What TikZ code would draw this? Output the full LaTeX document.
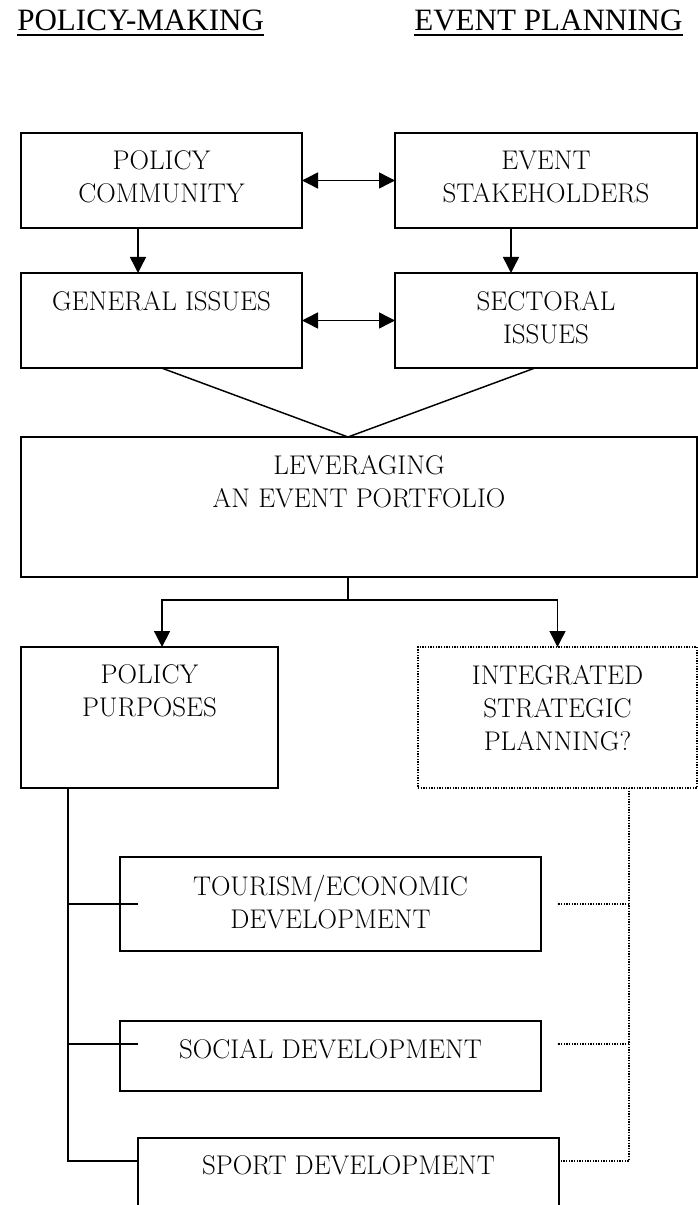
\documentclass[tikz,border=0pt]{standalone}
\usepackage{fontspec}
\newfontfamily\headfont{Liberation Serif}
\usetikzlibrary{arrows.meta}
\newcommand{\boxtext}[3]{\parbox[t][#2][t]{#1}{\centering #3}}
\newcommand{\boxfont}{\fontsize{20.25}{24.75}\selectfont}

\begin{document}
\begin{tikzpicture}[x=0.75pt, y=-0.75pt,
    head/.style={font=\headfont\fontsize{23.3}{27}\selectfont, inner sep=0pt, anchor=base west},
    box/.style={draw, line width=1.1pt, inner xsep=0pt, inner ysep=13.5pt, outer sep=0pt,
                anchor=north west, font=\boxfont},
    dotbox/.style={box, line width=0.9pt, dash pattern=on 0.9pt off 1.1pt},
    ln/.style={line width=1.1pt},
    dotln/.style={line width=0.9pt, dash pattern=on 0.9pt off 1.1pt},
    arr/.style={ln, -{Triangle[length=12pt,width=12pt]}},
    dblarr/.style={ln, {Triangle[length=12pt,width=12pt]}-{Triangle[length=12pt,width=12pt]}}]
    \useasboundingbox (0,0) rectangle (698,1205);

    % column headings
    \node[head] (hpm) at (17,31) {POLICY-MAKING};
    \node[head] (hep) at (414,31) {EVENT PLANNING};
    \draw[line width=1.3pt] ([yshift=-2.8pt]hpm.base west) -- ([yshift=-2.8pt]hpm.base east);
    \draw[line width=1.3pt] ([yshift=-2.8pt]hep.base west) -- ([yshift=-2.8pt]hep.base east);

    \node[box] (pc)  at (21,133)  {\boxtext{210.75pt}{44.25pt}{POLICY\\COMMUNITY}};
    \node[box] (es)  at (395,133) {\boxtext{226.5pt}{44.25pt}{EVENT\\STAKEHOLDERS}};
    \node[box] (gi)  at (21,273)  {\boxtext{210.75pt}{44.25pt}{GENERAL ISSUES}};
    \node[box] (si)  at (395,273) {\boxtext{226.5pt}{44.25pt}{SECTORAL\\ISSUES}};
    \node[box] (lev) at (21,437)  {\boxtext{507pt}{78pt}{LEVERAGING\\AN EVENT PORTFOLIO}};
    \node[box] (pp)  at (21,647)  {\boxtext{192.75pt}{78.75pt}{POLICY\\PURPOSES}};
    \node[dotbox] (isp) at (418,647) {\boxtext{209.25pt}{78.75pt}{INTEGRATED\\STRATEGIC\\PLANNING?}};
    \node[box] (ted) at (120,857) {\boxtext{315.75pt}{43.5pt}{TOURISM/ECONOMIC\\DEVELOPMENT}};
    \node[box] (sd)  at (120,1021) {\boxtext{315.75pt}{25.5pt}{SOCIAL DEVELOPMENT}};
    \node[box] (spd) at (138,1138) {\boxtext{315.75pt}{40.5pt}{SPORT DEVELOPMENT}};

    \draw[dblarr] (pc) -- (es);
    \draw[dblarr] (gi) -- (si);
    \draw[arr] ([xshift=87.75pt]pc.south west) -- ([xshift=87.75pt]gi.north west);
    \draw[arr] ([xshift=87pt]es.south west) -- ([xshift=87pt]si.north west);

    %Issues meet in the portfolio
    \coordinate (apex) at ([xshift=-8.25pt]lev.north);
    \draw[ln] (gi.south) -- (apex) -- ([xshift=-8.25pt]si.south);

    \path (apex |- lev.south) ++(0,23) coordinate (fork);
    \draw[ln] (apex |- lev.south) -- (fork);
    \draw[arr] (fork) -| ([xshift=9.4pt]pp.north);
    \draw[arr] (fork) -| (isp.north);

    %Purposes
    \coordinate (spine) at ([xshift=35.25pt]pp.south west);
    \draw[ln] (spine) |- ([yshift=-17.25pt]spd.north west);
    \draw[ln] (spine |- ted.west) -- ([xshift=13.5pt]ted.west);
    \draw[ln] ([yshift=-17.25pt]spine |- sd.north) -- ([shift={(13.5pt,-17.25pt)}]sd.north west);

    \coordinate (dspine) at ([xshift=-51pt]isp.south east);
    \draw[dotln] (dspine) |- ([yshift=-17.25pt]spd.north east);
    \draw[dotln] (dspine |- ted.east) -- ([xshift=12pt]ted.east);
    \draw[dotln] ([yshift=-17.25pt]dspine |- sd.north) -- ([shift={(12pt,-17.25pt)}]sd.north east);
\end{tikzpicture}
\end{document}
